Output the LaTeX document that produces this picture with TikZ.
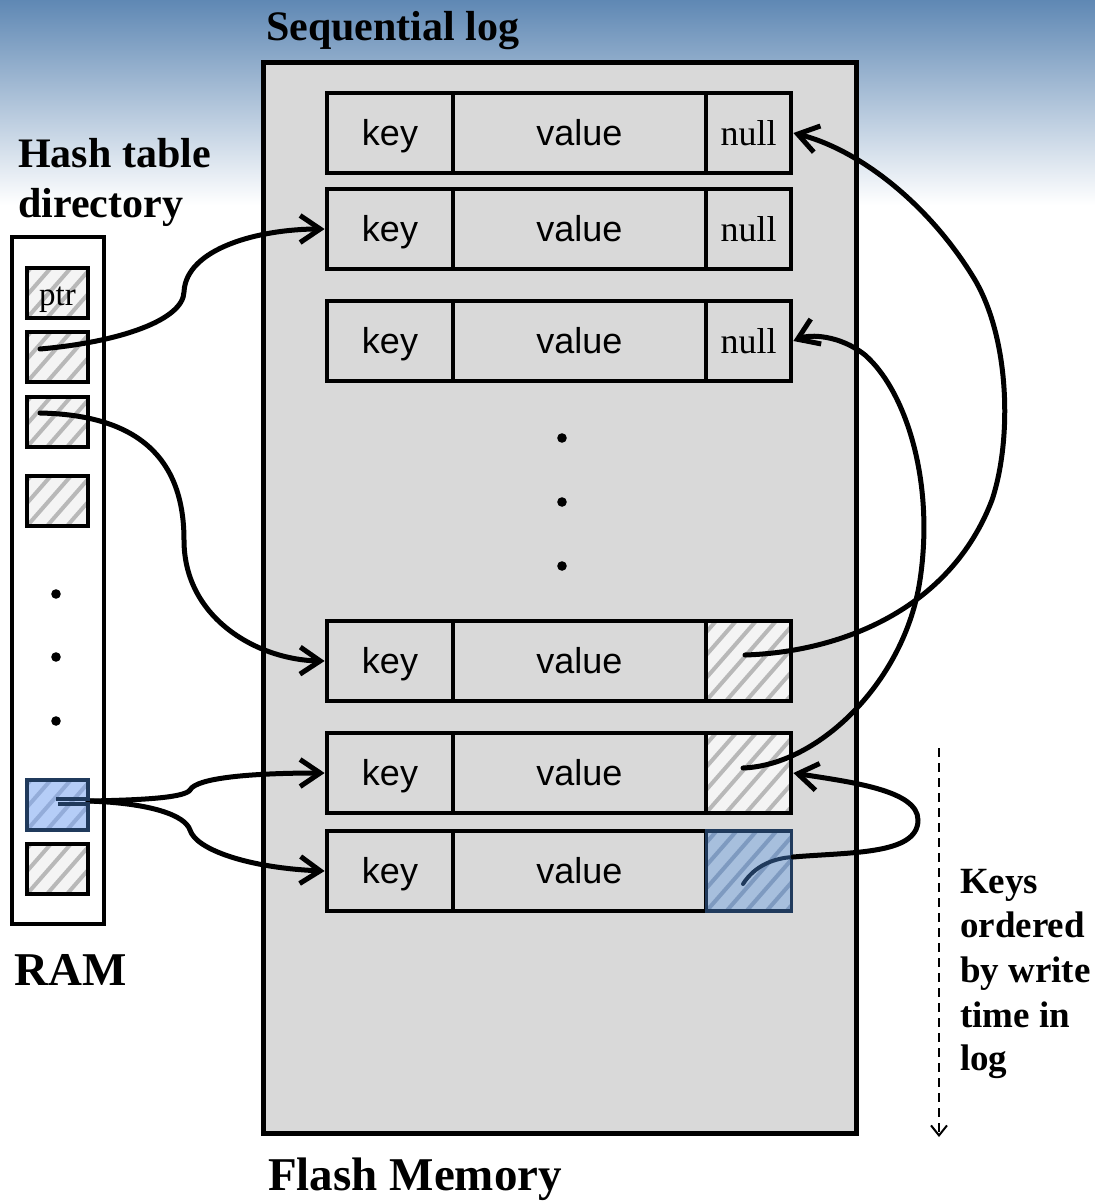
\documentclass[tikz,border=0pt]{standalone}
\usepackage{fontspec}
\setmainfont{Liberation Serif}
\newfontfamily\arialf{Liberation Sans}
\usetikzlibrary{arrows.meta}
\definecolor{loggray}{HTML}{D9D9D9}
\definecolor{hatchbg}{HTML}{F4F4F4}
\definecolor{hatchfg}{HTML}{B8B8B8}
\definecolor{bluebg}{HTML}{A7BFDD}
\definecolor{bluefg}{HTML}{7E9AC0}
\definecolor{ramblue}{HTML}{B5CDF7}
\definecolor{ramstripe}{HTML}{93ACD9}
\definecolor{navy}{HTML}{203A5C}
\definecolor{bgtop}{HTML}{5F88B4}
\definecolor{bgmid}{HTML}{B3C7DC}
\tikzset{
  hatch/.style 2 args={fill=#1, path picture={
      \foreach \i in {-140,-120,...,120}{
        \draw[#2,line width=4pt] ([xshift=\i pt]path picture bounding box.south west) -- ++(140,-160);}}},
  rec/.style={draw, line width=4.8pt, fill=loggray, minimum height=80pt, inner sep=0pt,
      text height=27pt, text depth=2pt, font=\arialf\fontsize{36}{40}\selectfont},
  keyc/.style={rec, minimum width=126pt},
  valc/.style={rec, minimum width=253pt},
  nullc/.style={rec, minimum width=85pt, font=\fontsize{36}{40}\selectfont},
  ptrc/.style={rec, minimum width=85pt, hatch={hatchbg}{hatchfg}},
  bptrc/.style={rec, minimum width=85pt, draw=navy, line width=3.5pt, hatch={bluebg}{bluefg}},
  ramc/.style={draw, line width=4.8pt, minimum width=61pt, minimum height=50pt, inner sep=0pt,
      text height=27pt, text depth=2pt, font=\fontsize{33}{36}\selectfont, hatch={hatchbg}{hatchfg}},
  bramc/.style={ramc, draw=navy, line width=3.5pt, hatch={ramblue}{ramstripe}},
  lbl/.style={font=\bfseries\fontsize{42}{50}\selectfont, inner sep=0pt, anchor=base west},
  big/.style={font=\bfseries\fontsize{47}{56}\selectfont, inner sep=0pt, anchor=base west},
  side/.style={font=\bfseries\fontsize{37}{45}\selectfont, inner sep=0pt, anchor=base west},
  conn/.style={line width=5pt, line cap=round, -{Straight Barb[length=20pt,width=27pt]}},
}
\begin{document}
\begin{tikzpicture}[x=1pt,y=-1pt]
\useasboundingbox (0,0) rectangle (1095,1203);
\fill[white] (0,0) rectangle (1095,1203);
\shade[top color=bgtop, middle color=bgmid, bottom color=white] (0,0) rectangle (1095,205);

% flash and RAM containers
\node[draw, line width=5pt, fill=loggray, minimum width=593pt, minimum height=1071pt, inner sep=0pt] (flash) at (559.5,597.5) {};
\node[draw, line width=4.8pt, fill=white, minimum width=92pt, minimum height=687pt, inner sep=0pt] (ram) at (58,580.5) {};

% labels
\node[lbl] (seqlog) at (266,40) {Sequential log};
\node[lbl] (hashA) at (18,167) {Hash table};
\node[lbl] (hashB) at (18,217) {directory};
\node[big] (ramlbl) at (14,985) {RAM};
\node[big] (flashlbl) at (268,1190) {Flash Memory};
\node[side] (kA) at (960,893) {Keys};
\node[side] (kB) at (960,937) {ordered};
\node[side] (kC) at (960,982) {by write};
\node[side] (kD) at (960,1027) {time in};
\node[side] (kE) at (960,1070) {log};

% log records
\node[keyc] (k1) at (390,133) {key};
\node[valc] (v1) at (579.5,133) {value};
\node[nullc] (p1) at (748.5,133) {null};
\node[keyc] (k2) at (390,229) {key};
\node[valc] (v2) at (579.5,229) {value};
\node[nullc] (p2) at (748.5,229) {null};
\node[keyc] (k3) at (390,341) {key};
\node[valc] (v3) at (579.5,341) {value};
\node[nullc] (p3) at (748.5,341) {null};
\node[keyc] (k4) at (390,661) {key};
\node[valc] (v4) at (579.5,661) {value};
\node[ptrc] (p4) at (748.5,661) {};
\node[keyc] (k5) at (390,773) {key};
\node[valc] (v5) at (579.5,773) {value};
\node[ptrc] (p5) at (748.5,773) {};
\node[keyc] (k6) at (390,871) {key};
\node[valc] (v6) at (579.5,871) {value};
\node[bptrc] (p6) at (749,871) {};

% log dots
\foreach \yy in {438,502,566} \fill (562,\yy) circle (4.8pt);

% RAM cells
\node[ramc] (c1) at (57.5,293) {ptr};
\node[ramc] (c2) at (57.5,357) {};
\node[ramc] (c3) at (57.5,422) {};
\node[ramc] (c4) at (57.5,501) {};
\node[bramc] (c5) at (57.5,805) {};
\node[ramc] (c6) at (57.5,869) {};
\foreach \yy in {594,657,721} \fill (56,\yy) circle (4.8pt);

% pointers from RAM
\coordinate (s2) at (40,349);
\coordinate (s3) at (40,413);
\coordinate (s5) at (88,801);
\draw[conn] (s2) .. controls (120,342) and (183,320) .. (184,292)
   .. controls (186,248) and (260,229) .. (k2.west);
\draw[conn] (s3) .. controls (140,415) and (184,460) .. (184,540)
   .. controls (184,620) and (260,660) .. (k4.west);
\draw[conn] (s5) .. controls (150,800) and (185,797) .. (190,790)
   .. controls (196,778) and (250,773) .. (k5.west);
\draw[conn] (s5) .. controls (150,803) and (185,815) .. (190,830)
   .. controls (196,850) and (250,868) .. (k6.west);
\draw[navy, line width=4pt] (56,799) -- (c5.east |- 0,799);
\draw[navy, line width=4pt] (58,804) -- (c5.east |- 0,804);

% chain pointers in log
\coordinate (e4) at (745,655);
\coordinate (e5) at (743,768);
\coordinate (e6) at (743,884);
\coordinate (e6b) at (793,857);
\draw[conn] (e4) .. controls (840,652) and (950,610) .. (992,500)
   .. controls (1012,440) and (1010,340) .. (975,280)
   .. controls (930,205) and (860,150) .. (p1.east);
\draw[conn] (e5) .. controls (820,765) and (905,680) .. (920,580)
   .. controls (935,480) and (905,390) .. (865,355)
   .. controls (840,335) and (810,334) .. (p3.east);
\draw[navy, line width=4pt, line cap=round] (e6) .. controls (755,865) and (775,858) .. (e6b);
\draw[conn] (e6b) .. controls (850,852) and (918,855) .. (918,820)
   .. controls (918,790) and (850,782) .. (p5.east);

% time arrow
\coordinate (dtop) at (939,748);
\coordinate (dbot) at (939,1137);
\draw[line width=2pt, dash pattern=on 9pt off 6pt, -{Straight Barb[length=10pt,width=16pt]}] (dtop) -- (dbot);
\end{tikzpicture}
\end{document}
